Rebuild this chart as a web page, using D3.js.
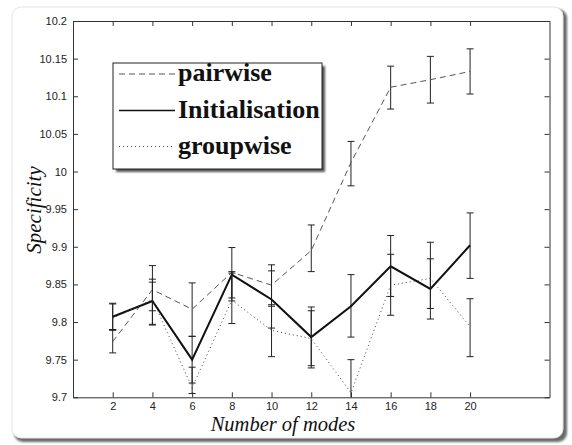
<!DOCTYPE html>
<html>
<head>
<meta charset="utf-8">
<script src="https://cdn.jsdelivr.net/npm/d3@7"></script>
<style>
body { margin: 0; background: #fff; }
svg { display: block; }
.tick text { font-family: "Liberation Sans", Arial, sans-serif; font-size: 11px; fill: #222; }
.domain, .tick line { stroke: #333; }
</style>
</head>
<body>
<svg width="572" height="445"></svg>
<script>
// data
var modes = [2, 4, 6, 8, 10, 12, 14, 16, 18, 20];
var pairwise     = [9.774, 9.843, 9.817, 9.866, 9.849, 9.895, 10.012, 10.112, 10.122, 10.133];
var pairwiseLo   = [9.759, 9.815, 9.781, 9.832, 9.823, 9.867, 9.981, 10.083, 10.091, 10.103];
var pairwiseHi   = [9.790, 9.875, 9.852, 9.865, 9.876, 9.929, 10.040, 10.140, 10.153, 10.163];
var initialisation   = [9.807, 9.828, 9.750, 9.863, 9.830, 9.780, 9.821, 9.874, 9.844, 9.902];
var initialisationLo = [9.790, 9.796, 9.719, 9.828, 9.792, 9.742, 9.780, 9.834, 9.804, 9.858];
var initialisationHi = [9.824, 9.857, 9.781, 9.899, 9.868, 9.820, 9.863, 9.915, 9.884, 9.945];
var groupwise   = [9.805, 9.830, 9.713, 9.829, 9.789, 9.778, 9.706, 9.849, 9.858, 9.794];
var groupwiseLo = [9.789, 9.797, 9.705, 9.798, 9.754, 9.739, 9.670, 9.809, 9.818, 9.754];
var groupwiseHi = [9.825, 9.853, 9.740, 9.867, 9.821, 9.815, 9.750, 9.890, 9.906, 9.831];
var yTicks = [9.7, 9.75, 9.8, 9.85, 9.9, 9.95, 10, 10.05, 10.1, 10.15, 10.2];
var legendNames = ["pairwise", "Initialisation", "groupwise"];

var svg = d3.select("svg");
var margin = {left: 73, top: 21, right: 549.5, bottom: 397.3};

// card with drop shadow
var defs = svg.append("defs");
defs.append("filter").attr("id", "blur")
    .append("feGaussianBlur").attr("stdDeviation", 1.2);
svg.append("rect")
    .attr("x", 14).attr("y", 9).attr("width", 553).attr("height", 433)
    .attr("rx", 9).attr("fill", "#6a6a6a").attr("filter", "url(#blur)");
svg.append("rect")
    .attr("x", 12).attr("y", 7).attr("width", 551).attr("height", 431)
    .attr("rx", 9).attr("fill", "#fff").attr("stroke", "#e4e4e4");

var x = d3.scaleLinear().domain([0, 24]).range([margin.left, margin.right]);
var y = d3.scaleLinear().domain([9.7, 10.2]).range([margin.bottom, margin.top]);
var fmt = function(d) { return String(+d.toFixed(2)); };

// axes (box with inward ticks on all sides)
svg.append("g").attr("transform", "translate(0," + margin.bottom + ")")
    .call(d3.axisBottom(x).tickValues(modes).tickSizeInner(-5).tickSizeOuter(0).tickPadding(5));
svg.append("g").attr("transform", "translate(0," + margin.top + ")")
    .call(d3.axisTop(x).tickValues(modes).tickSizeInner(-5).tickSizeOuter(0).tickFormat(""));
svg.append("g").attr("transform", "translate(" + margin.left + ",0)")
    .call(d3.axisLeft(y).tickValues(yTicks).tickSizeInner(-5).tickSizeOuter(0).tickPadding(6).tickFormat(fmt));
svg.append("g").attr("transform", "translate(" + margin.right + ",0)")
    .call(d3.axisRight(y).tickValues(yTicks).tickSizeInner(-5).tickSizeOuter(0).tickFormat(""));
svg.selectAll(".domain").attr("stroke", "#333");

svg.append("clipPath").attr("id", "plot")
  .append("rect").attr("x", margin.left).attr("y", margin.top)
    .attr("width", margin.right - margin.left).attr("height", margin.bottom - margin.top);

var series = [
  {name: legendNames[0], mean: pairwise, lo: pairwiseLo, hi: pairwiseHi, width: 1, color: "#555", dash: "6,4"},
  {name: legendNames[1], mean: initialisation, lo: initialisationLo, hi: initialisationHi, width: 2, color: "#111", dash: null},
  {name: legendNames[2], mean: groupwise, lo: groupwiseLo, hi: groupwiseHi, width: 1, color: "#444", dash: "1,3"}
];

var line = d3.line().x(function(d) { return x(d[0]); }).y(function(d) { return y(d[1]); });
var plot = svg.append("g").attr("clip-path", "url(#plot)");

series.forEach(function(s) {
  var g = plot.append("g");
  modes.forEach(function(m, i) {
    g.append("line").attr("x1", x(m)).attr("x2", x(m))
      .attr("y1", y(s.lo[i])).attr("y2", y(s.hi[i])).attr("stroke", "#222");
    [s.lo[i], s.hi[i]].forEach(function(v) {
      g.append("line").attr("x1", x(m) - 3.5).attr("x2", x(m) + 3.5)
        .attr("y1", y(v)).attr("y2", y(v)).attr("stroke", "#222");
    });
  });
  g.append("path")
    .datum(modes.map(function(m, i) { return [m, s.mean[i]]; }))
    .attr("d", line).attr("fill", "none")
    .attr("stroke", s.color).attr("stroke-width", s.width)
    .attr("stroke-dasharray", s.dash);
});

// legend
var lg = svg.append("g");
lg.append("rect").attr("x", 116).attr("y", 66).attr("width", 209).attr("height", 106)
  .attr("fill", "#555").attr("filter", "url(#blur)");
lg.append("rect").attr("x", 113).attr("y", 63).attr("width", 209).attr("height", 106)
  .attr("fill", "#fff").attr("stroke", "#222");
series.forEach(function(s, i) {
  var yy = [74, 110.5, 146.5][i];
  lg.append("line").attr("x1", 119).attr("x2", 175).attr("y1", yy).attr("y2", yy)
    .attr("stroke", s.color).attr("stroke-width", s.width === 2 ? 1.3 : 1).attr("stroke-dasharray", s.dash);
  lg.append("text").attr("x", 178).attr("y", yy + 7)
    .attr("font-family", "'Liberation Serif', 'Times New Roman', serif")
    .attr("font-weight", "bold").attr("font-size", 26).attr("fill", "#111")
    .text(s.name);
});

// axis titles
svg.append("text").attr("x", 283).attr("y", 431)
  .attr("text-anchor", "middle")
  .attr("font-family", "'Liberation Serif', serif").attr("font-style", "italic")
  .attr("font-size", 20.5).attr("fill", "#111").text("Number of modes");
svg.append("text").attr("transform", "translate(41,210) rotate(-90)")
  .attr("text-anchor", "middle")
  .attr("font-family", "'Liberation Serif', serif").attr("font-style", "italic")
  .attr("font-size", 21).attr("fill", "#111").text("Specificity");
</script>
</body>
</html>
